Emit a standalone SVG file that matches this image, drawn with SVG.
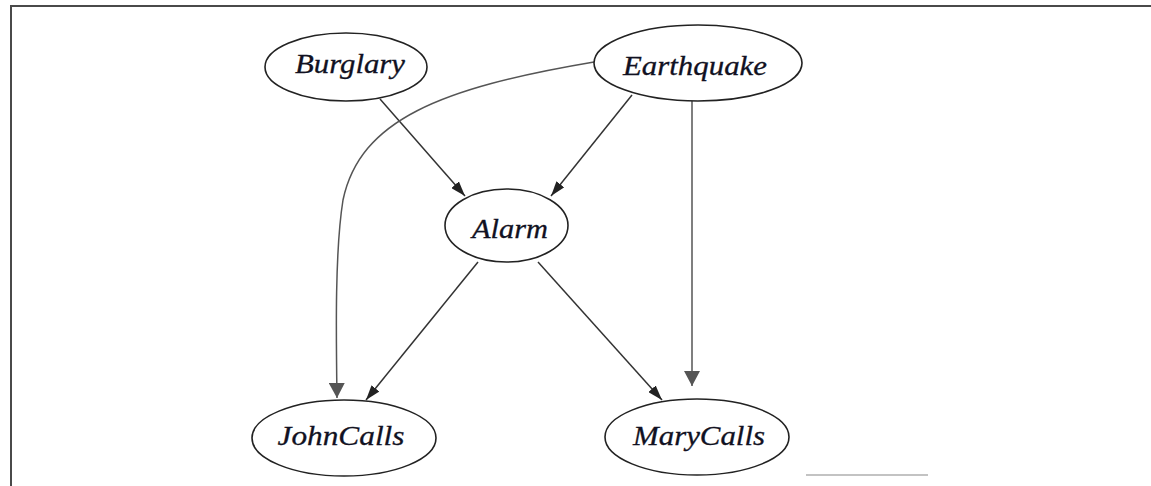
<svg xmlns="http://www.w3.org/2000/svg" width="1151" height="486" viewBox="0 0 1151 486">
  <style>
    .frame { stroke: #4a4a4a; stroke-width: 2; fill: none; }
    .node ellipse { fill: #ffffff; stroke: #222222; stroke-width: 1.6; }
    .node text { font-family: "Liberation Serif", "Times New Roman", serif; font-style: italic; font-size: 27px; fill: #111122; stroke: #111122; stroke-width: 0.3; text-anchor: middle; }
    .edge { fill: none; stroke: #333333; stroke-width: 1.5; }
    .edge.gray { stroke: #555555; }
  </style>
  <defs>
    <marker id="head" markerWidth="16" markerHeight="10" refX="15" refY="5" orient="auto" markerUnits="userSpaceOnUse">
      <path d="M0,0 L15,5 L0,10 Z" fill="#222222"/>
    </marker>
    <marker id="headWide" markerWidth="16" markerHeight="16" refX="15" refY="8" orient="auto" markerUnits="userSpaceOnUse">
      <path d="M0,0 L15,8 L0,16 Z" fill="#555555"/>
    </marker>
  </defs>

  <rect width="1151" height="486" fill="#ffffff"/>

  <!-- page frame -->
  <g id="frame">
    <line class="frame" x1="11" y1="6" x2="1151" y2="6"/>
    <line class="frame" x1="11" y1="5" x2="11" y2="486"/>
    <line x1="806" y1="475" x2="928" y2="475" stroke="#888888" stroke-width="1.2"/>
  </g>

  <!-- connectors -->
  <g id="edges">
    <path class="edge" d="M380,99 L465,196" marker-end="url(#head)"/>
    <path class="edge" d="M632,95 L551,196" marker-end="url(#head)"/>
    <path class="edge gray" d="M692,101 L692,386" marker-end="url(#headWide)"/>
    <path class="edge gray" d="M594,62 C440,88 360,120 343,200 C335,250 336,330 337,398" marker-end="url(#headWide)"/>
    <path class="edge" d="M478,262 L366,400" marker-end="url(#head)"/>
    <path class="edge" d="M538,262 L662,400" marker-end="url(#head)"/>
  </g>

  <g id="burglary" class="node">
    <ellipse cx="346" cy="67" rx="81" ry="34"/>
    <text x="350" y="73" textLength="110" lengthAdjust="spacingAndGlyphs">Burglary</text>
  </g>
  <g id="earthquake" class="node">
    <ellipse cx="698" cy="63" rx="104" ry="38"/>
    <text x="695" y="75" textLength="144" lengthAdjust="spacingAndGlyphs">Earthquake</text>
  </g>
  <g id="alarm" class="node">
    <ellipse cx="506.5" cy="225.5" rx="61.5" ry="36.5"/>
    <text x="510" y="238" textLength="76" lengthAdjust="spacingAndGlyphs">Alarm</text>
  </g>
  <g id="johncalls" class="node">
    <ellipse cx="344" cy="438" rx="92" ry="38"/>
    <text x="341" y="445" textLength="127" lengthAdjust="spacingAndGlyphs">JohnCalls</text>
  </g>
  <g id="marycalls" class="node">
    <ellipse cx="697" cy="437" rx="92" ry="38"/>
    <text x="699" y="445" textLength="132" lengthAdjust="spacingAndGlyphs">MaryCalls</text>
  </g>
</svg>
